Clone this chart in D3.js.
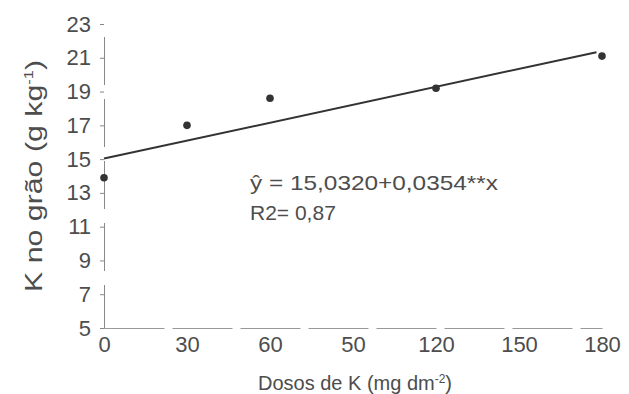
<!DOCTYPE html>
<html>
<head>
<meta charset="utf-8">
<script src="https://cdn.jsdelivr.net/npm/d3@7"></script>
<style>
  body { margin: 0; background: #fff; }
  text { font-family: "Liberation Sans", Arial, sans-serif; fill: #4d4d4d; }
</style>
</head>
<body>
<div id="chart"></div>
<script>
// data
var doses = [0, 30, 60, 120, 180];
var kGrain = [13.9, 17.0, 18.6, 19.2, 21.1];
var xTicks = [0, 30, 60, 90, 120, 150, 180];
var xTickLabels = ["0", "30", "60", "50", "120", "150", "180"]; // as printed in the original
var yTicks = [5, 7, 9, 11, 13, 15, 17, 19, 21, 23];
var fitA = 15.0320, fitB = 0.0354;

var width = 629, height = 394;
var svg = d3.select("#chart").append("svg")
  .attr("width", width)
  .attr("height", height);

var x = d3.scaleLinear().domain([0, 180]).range([104, 602]);
var y = d3.scaleLinear().domain([5, 23]).range([328, 24]);

// y axis (thin, broken line like the scan)
var yAxis = svg.append("g")
  .attr("transform", "translate(" + x(0) + ",0)")
  .call(d3.axisLeft(y).tickValues(yTicks).tickSize(4).tickPadding(9));
yAxis.select(".domain").attr("stroke", "#888").attr("stroke-width", 1)
  .attr("stroke-dasharray", "48,14");
yAxis.selectAll(".tick line").attr("stroke", "#888");
yAxis.selectAll("text").attr("font-size", 22).style("fill", "#4d4d4d");

// x axis
var xAxis = svg.append("g")
  .attr("transform", "translate(0," + y(5) + ")")
  .call(d3.axisBottom(x).tickValues(xTicks).tickSize(0).tickPadding(8)
    .tickFormat(function(d, i) { return xTickLabels[i]; }));
xAxis.select(".domain").attr("stroke", "#999").attr("stroke-width", 1.2)
  .attr("stroke-dasharray", "60,8");
xAxis.selectAll("text").attr("font-size", 22).style("fill", "#4d4d4d");

// regression line
svg.append("line")
  .attr("x1", x(0)).attr("y1", y(fitA))
  .attr("x2", x(178)).attr("y2", y(fitA + fitB * 178))
  .attr("stroke", "#333")
  .attr("stroke-width", 2);

// points
svg.selectAll("circle.pt")
  .data(doses)
  .enter().append("circle")
  .attr("class", "pt")
  .attr("cx", function(d) { return x(d); })
  .attr("cy", function(d, i) { return y(kGrain[i]); })
  .attr("r", 3.8)
  .attr("fill", "#333");

// equation
svg.append("text").attr("x", 250).attr("y", 190).attr("font-size", 21)
  .attr("textLength", 248).attr("lengthAdjust", "spacingAndGlyphs")
  .text("ŷ = 15,0320+0,0354**x");
svg.append("text").attr("x", 250).attr("y", 220).attr("font-size", 21)
  .text("R2= 0,87");

// axis titles
svg.append("text")
  .attr("transform", "translate(42,176) rotate(-90)")
  .attr("text-anchor", "middle")
  .attr("font-size", 24)
  .attr("textLength", 232).attr("lengthAdjust", "spacingAndGlyphs")
  .html('K no grão (g kg<tspan dy="-9" font-size="13">-1</tspan><tspan dy="9">)</tspan>');

svg.append("text")
  .attr("x", 355).attr("y", 390)
  .attr("text-anchor", "middle")
  .attr("font-size", 20)
  .html('Dosos de K (mg dm<tspan dy="-7" font-size="12">-2</tspan><tspan dy="7">)</tspan>');
</script>
</body>
</html>
